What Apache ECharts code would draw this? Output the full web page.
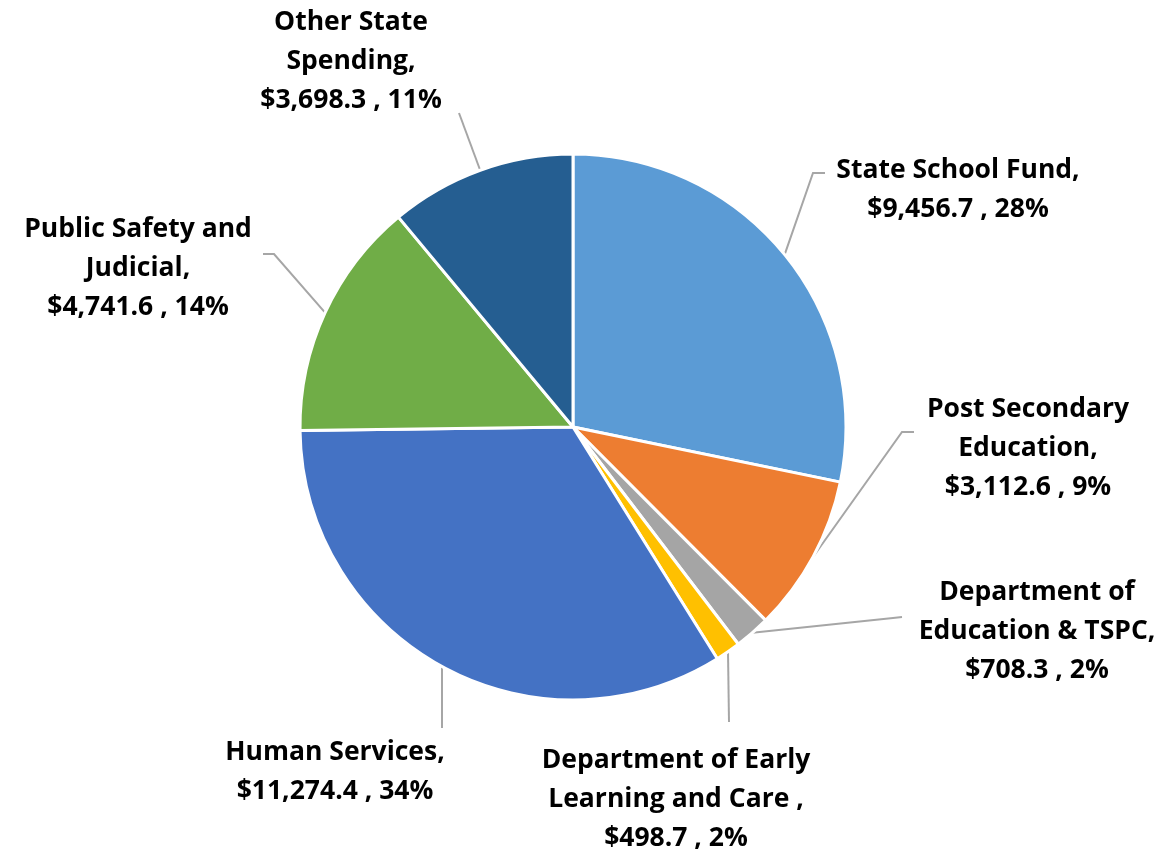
<!DOCTYPE html>
<html>
<head>
<meta charset="utf-8">
<script src="https://cdn.jsdelivr.net/npm/echarts@6/dist/echarts.min.js"></script>
<style>
html,body{margin:0;padding:0;background:#fff;}
#chart{width:1173px;height:856px;}
</style>
</head>
<body>
<div id="chart"></div>
<script>
// Data
const categories = ['State School Fund', 'Post Secondary Education', 'Department of Education & TSPC', 'Department of Early Learning and Care', 'Human Services', 'Public Safety and Judicial', 'Other State Spending'];
const labelNames = ['State School Fund,', 'Post Secondary\nEducation,', 'Department of\nEducation & TSPC,', 'Department of Early\nLearning and Care ,', 'Human Services,', 'Public Safety and\nJudicial,', 'Other State\nSpending,'];
const values = [9456.7, 3112.6, 708.3, 498.7, 11274.4, 4741.6, 3698.3];
const colors = ['#5B9BD5', '#ED7D31', '#A5A5A5', '#FFC000', '#4472C4', '#70AD47', '#255E91'];

// Label placement (styling/layout)
const labelPos = [
  {x: 958, y: 190, line: [[813,173],[825,173]]},
  {x: 1028, y: 448, line: [[902,432],[914,432]]},
  {x: 1037, y: 631, line: [[893,618],[902,617]]},
  {x: 676, y: 799, line: [[729,722]]},
  {x: 335, y: 772, line: [[442,728]]},
  {x: 138, y: 268, line: [[274,254],[263,254]]},
  {x: 351, y: 61, line: [[459,113]]}
];

function fmt(v){
  return '$' + v.toLocaleString('en-US', {minimumFractionDigits:1, maximumFractionDigits:1});
}

const chart = echarts.init(document.getElementById('chart'));
chart.setOption({
  animation: false,
  backgroundColor: '#fff',
  series: [{
    type: 'pie',
    center: [573, 427],
    radius: 273,
    startAngle: 90,
    clockwise: true,
    percentPrecision: 0,
    avoidLabelOverlap: false,
    data: categories.map((c, i) => ({name: c, value: values[i], itemStyle: {color: colors[i]}})),
    itemStyle: {borderColor: '#fff', borderWidth: 3},
    label: {
      show: true,
      position: 'outside',
      formatter: p => labelNames[p.dataIndex] + '\n' + fmt(p.value) + ' , ' + p.percent + '%',
      fontFamily: 'Open Sans',
      fontWeight: 'bold',
      fontSize: 26.5,
      lineHeight: 39,
      color: '#000',
      align: 'center'
    },
    labelLine: {
      show: true,
      length: 20,
      length2: 10,
      smooth: false,
      lineStyle: {color: '#A6A6A6', width: 2}
    },
    labelLayout: function (params) {
      const lp = labelPos[params.dataIndex];
      const start = params.labelLinePoints ? params.labelLinePoints[0] : null;
      const res = {x: lp.x, y: lp.y, align: 'center', verticalAlign: 'middle'};
      if (start) res.labelLinePoints = [start].concat(lp.line);
      return res;
    }
  }]
});
</script>
</body>
</html>
